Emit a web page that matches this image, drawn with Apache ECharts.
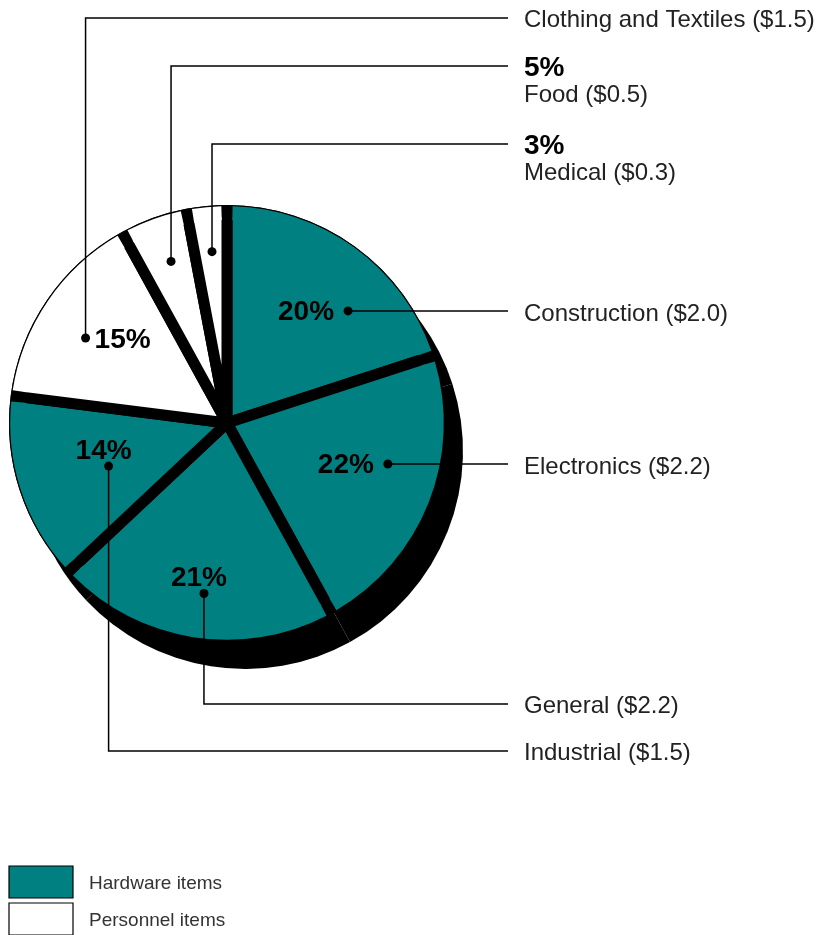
<!DOCTYPE html>
<html>
<head>
<meta charset="utf-8">
<script src="https://cdn.jsdelivr.net/npm/echarts@6/dist/echarts.min.js"></script>
<style>
  html, body { margin: 0; padding: 0; background: #ffffff; }
  #chart { width: 823px; height: 935px; }
</style>
</head>
<body>
<div id="chart"></div>
<script>
// Spending breakdown by category (percent of total, dollar amount)
const categories = ['Construction', 'Electronics', 'General', 'Industrial', 'Clothing and Textiles', 'Food', 'Medical'];
const percents = [20, 22, 21, 14, 15, 5, 3];
const dollars = ['$2.0', '$2.2', '$2.2', '$1.5', '$1.5', '$0.5', '$0.3'];
const groupOf = ['Hardware items', 'Hardware items', 'Hardware items', 'Hardware items', 'Personnel items', 'Personnel items', 'Personnel items'];
const groupNames = ['Hardware items', 'Personnel items'];
const groupColors = { 'Hardware items': '#008080', 'Personnel items': '#ffffff' };

// Pie geometry
const CX = 227, CY = 423, R = 218;
const GAP = 11;                // constant-width separator between slices
const SHADOW_DX = 18, SHADOW_DY = 28;
const FONT = '"Liberation Sans", Arial, Helvetica, sans-serif';
const LABEL_X = 524, LINE_END_X = 508;

// Callout placement per slice: angular shift from the slice bisector (deg),
// radius of the anchor dot, where the inner percent text sits relative to the dot,
// and the row used by the right-hand label when the leader runs vertically first.
const callouts = [
  { shift: 11.2, r: 165, pct: 'left',  row: null },
  { shift: -7.3, r: 166, pct: 'left',  row: null },
  { shift: -1.3, r: 172, pct: 'above', row: 704 },
  { shift: -2.0, r: 126, pct: 'above', row: 751 },
  { shift: -3.2, r: 165, pct: 'right', row: 18 },
  { shift: 0.7,  r: 171, pct: 'side',  row: 66 },
  { shift: 0.4,  r: 172, pct: 'side',  row: 144 }
];

const total = percents.reduce((a, b) => a + b, 0);
const pieData = categories.map((name, i) => ({
  name: name,
  value: percents[i],
  itemStyle: { color: groupColors[groupOf[i]] }
}));
const blackData = categories.map((name, i) => ({ name: name, value: percents[i] }));

function polar(angleDeg, r) {
  const a = angleDeg * Math.PI / 180;
  return [CX + r * Math.sin(a), CY - r * Math.cos(a)];
}

const graphics = [];
const Z = 100;
function line(points) {
  graphics.push({ type: 'polyline', z: Z, shape: { points: points },
    style: { stroke: '#000', lineWidth: 1.5, fill: null } });
}
function dot(p) {
  graphics.push({ type: 'circle', z: Z, shape: { cx: p[0], cy: p[1], r: 4.5 }, style: { fill: '#000' } });
}
function text(str, x, y, font, align, color) {
  graphics.push({ type: 'text', z: Z, style: {
    text: str, x: x, y: y, font: font, fill: color || '#000',
    textAlign: align, textVerticalAlign: 'middle', align: align, verticalAlign: 'middle'
  } });
}

let cum = 0;
percents.forEach((v, i) => {
  const start = cum / total * 360;
  cum += v;
  const end = cum / total * 360;
  const c = callouts[i];
  const p = polar((start + end) / 2 + c.shift, c.r);
  const pctText = v + '%';
  const nameText = categories[i] + ' (' + dollars[i] + ')';
  const boldFont = 'bold 28px ' + FONT;
  const nameFont = '24px ' + FONT;
  const nameColor = '#222';

  if (c.row === null) {
    line([[p[0], p[1]], [LINE_END_X, p[1]]]);
    text(nameText, LABEL_X, p[1] + 3, nameFont, 'left', nameColor);
  } else {
    line([[p[0], p[1]], [p[0], c.row], [LINE_END_X, c.row]]);
    if (c.pct === 'side') {
      text(pctText, LABEL_X, c.row + 2, boldFont, 'left');
      text(nameText, LABEL_X, c.row + 29, nameFont, 'left', nameColor);
    } else {
      text(nameText, LABEL_X, c.row + 2, nameFont, 'left', nameColor);
    }
  }
  dot(p);

  if (c.pct === 'left') text(pctText, p[0] - 14, p[1] + 1, boldFont, 'right');
  if (c.pct === 'above') text(pctText, p[0] - 5, p[1] - 15, boldFont, 'center');
  if (c.pct === 'right') text(pctText, p[0] + 9, p[1] + 2, boldFont, 'left');
});

// Legend swatches
groupNames.forEach((g, k) => {
  const y = 866 + k * 37;
  graphics.push({ type: 'rect', z: Z, shape: { x: 9, y: y, width: 64, height: 32 },
    style: { fill: groupColors[g], stroke: '#000', lineWidth: 1.2 } });
  text(g, 89, y + 18, '19px ' + FONT, 'left', '#333');
});

const padDeg = GAP / (R - 7) * 180 / Math.PI;
const common = { type: 'pie', silent: true, animation: false, startAngle: 90, clockwise: true,
  label: { show: false }, labelLine: { show: false }, emphasis: { disabled: true } };

const option = {
  backgroundColor: '#ffffff',
  animation: false,
  series: [
    // drop shadow
    Object.assign({}, common, { name: 'shadow', z: 1, center: [CX + SHADOW_DX, CY + SHADOW_DY],
      radius: [0, R], data: blackData, itemStyle: { color: '#000' } }),
    // slices with black separators
    Object.assign({}, common, { name: 'slices', z: 2, center: [CX, CY], radius: [0, R - GAP / 2],
      data: pieData, itemStyle: { borderColor: '#000', borderWidth: GAP, borderJoin: 'bevel' } }),
    // dark band under the rim so separators stay black close to the edge
    Object.assign({}, common, { name: 'rimBase', z: 3, center: [CX, CY], radius: [R - GAP - 1, R - 5],
      data: blackData, itemStyle: { color: '#000' } }),
    // thin outline of the rim
    Object.assign({}, common, { name: 'outline', z: 3, center: [CX, CY], radius: [R - 1.2, R],
      data: blackData, itemStyle: { color: '#000' } }),
    // outer rim of each slice, separated by the same gap width
    Object.assign({}, common, { name: 'rim', z: 4, center: [CX, CY], radius: [R - GAP - 4, R - 1.2],
      padAngle: padDeg, data: pieData })
  ],
  graphic: { elements: graphics }
};

const chart = echarts.init(document.getElementById('chart'), null, { renderer: 'canvas' });
chart.setOption(option);
</script>
</body>
</html>
